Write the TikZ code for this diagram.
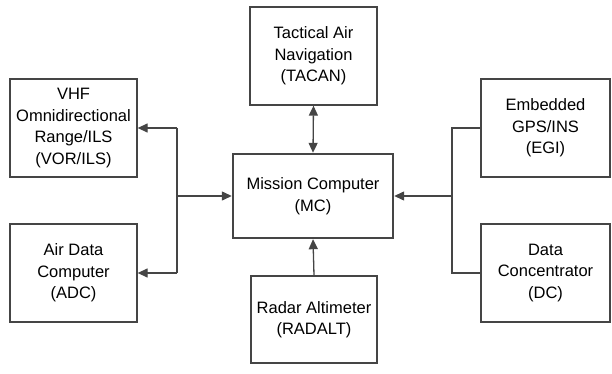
\documentclass[tikz,border=0pt]{standalone}
\usepackage{fontspec}
\setmainfont{Liberation Sans}
\usetikzlibrary{arrows.meta}
\definecolor{ln}{HTML}{454545}
\begin{document}
\begin{tikzpicture}[x=1pt,y=-1pt,
  box/.style={draw=ln,line width=1.3pt,fill=white,align=center,inner sep=0pt,
    font=\fontsize{16.5}{21.5}\selectfont},
  conn/.style={draw=ln,line width=1.3pt},
  tip/.style={-{Triangle[length=10pt,width=9pt]}}]
\useasboundingbox (0,0) rectangle (612,374);
\node[box,minimum width=127pt,minimum height=98pt] (vor) at (73.5,128) {VHF\\Omnidirectional\\Range/ILS\\(VOR/ILS)};
\node[box,minimum width=127pt,minimum height=98pt] (adc) at (73.5,273) {Air Data\\Computer\\(ADC)};
\node[box,minimum width=127pt,minimum height=98pt] (tac) at (313.5,56) {Tactical Air\\Navigation\\(TACAN)};
\node[box,line width=2.4pt,minimum width=160pt,minimum height=84pt] (mc) at (313,196) {Mission Computer\\(MC)};
\node[box,minimum width=126pt,minimum height=87pt] (rad) at (314,319.5) {Radar Altimeter\\(RADALT)};
\node[box,minimum width=129pt,minimum height=98pt] (egi) at (545.5,128) {Embedded\\GPS/INS\\(EGI)};
\node[box,minimum width=129pt,minimum height=98pt] (dc) at (545.5,273) {Data\\Concentrator\\(DC)};
\coordinate (lt) at (177,128);
\coordinate (lb) at (177,273);
\coordinate (lm) at (177,196);
\coordinate (rt) at (452,128);
\coordinate (rb) at (452,273);
\coordinate (rm) at (452,196);
\draw[conn,tip] (lt) -- (vor.east |- lt);
\draw[conn,tip] (lb) -- (adc.east |- lb);
\draw[conn] (lt) -- (lb);
\draw[conn,tip] (lm) -- (mc.west);
\draw[conn] (egi.west |- rt) -- (rt) -- (rb) -- (dc.west |- rb);
\draw[conn,tip] (rm) -- (mc.east);
\draw[conn,{Triangle[length=10pt,width=9pt]}-{Triangle[length=10pt,width=9pt]}] (tac.south) -- (mc.north);
\draw[conn,tip] (rad.north) -- (mc.south);
\end{tikzpicture}
\end{document}
